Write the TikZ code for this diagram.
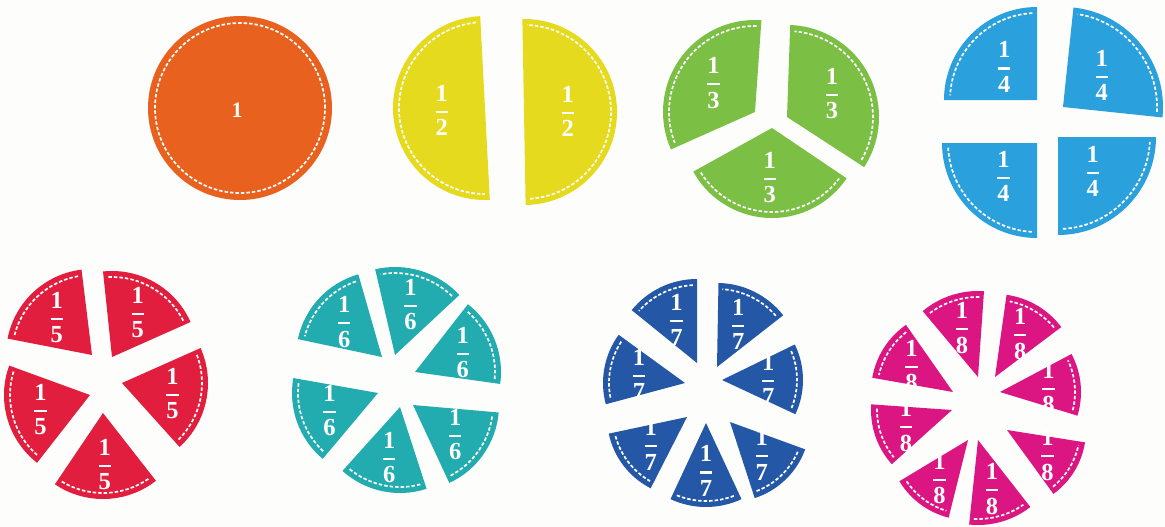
\documentclass[tikz,border=0pt]{standalone}
\usepackage{amsmath}
\usepackage{fontspec}
\setmainfont{Liberation Serif}
\usetikzlibrary{calc}
\definecolor{bg}{HTML}{FDFDFB}
\definecolor{corange}{HTML}{E8611E}
\definecolor{cyel}{HTML}{E5DA1E}
\definecolor{cgreen}{HTML}{7BBF45}
\definecolor{cblue}{HTML}{2AA0DC}
\definecolor{cred}{HTML}{E11E3D}
\definecolor{cteal}{HTML}{22ACB0}
\definecolor{cnavy}{HTML}{2457A6}
\definecolor{cmag}{HTML}{DB1683}
\tikzset{
  stitch/.style={white, line width=1.7pt, dash pattern=on 3.5pt off 2pt},
  frac/.style={text=white, inner sep=0pt, font=\bfseries\fontsize{24.5}{28}\selectfont},
}
\newcommand\fr[1]{$\genfrac{}{}{2.2pt}{0}{\text{1}}{\text{#1}}$}
\def\ld{0.6}
% #1 x, #2 y (pixels, down), #3 radius, #4 start, #5 end, #6 colour, #7 denominator, #8 name
\newcommand\slice[8]{%
  \fill[#6] (#1,-#2) -- ++(#4:#3) arc[start angle=#4,end angle=#5,radius=#3] -- cycle;
  \draw[stitch] ($(#1,-#2)+({#4+3}:{#3-6})$) arc[start angle={#4+3},end angle={#5-3},radius={#3-6}];
  \node[frac] (#8) at ($(#1,-#2)+({(#4+#5)/2}:{\ld*#3})$) {\fr{#7}};
}
\begin{document}
\begin{tikzpicture}[x=1pt,y=1pt]
\fill[bg] (0,0) rectangle (1165,-527);
\useasboundingbox (0,0) rectangle (1165,-527);
\clip (0,0) rectangle (1165,-527);
% whole
\fill[corange] (240,-108) circle[radius=92];
\draw[stitch] (240,-108) circle[radius=85];
\node[frac, font=\bfseries\fontsize{22}{26}\selectfont] (one) at (237,-110) {1};
% halves
\def\ld{0.47}
\slice{485}{108}{92}{93}{273}{cyel}{2}{h1}
\slice{524}{112}{93}{-89}{91}{cyel}{2}{h2}
% thirds
\def\ld{0.55}
\slice{755}{112}{92}{86}{204}{cgreen}{3}{t1}
\slice{787}{117}{92}{-33}{88}{cgreen}{3}{t2}
\slice{772}{128}{90}{209}{326}{cgreen}{3}{t3}
% quarters
\def\ld{0.5}
\slice{1037}{100}{93}{90}{180}{cblue}{4}{q1}
\slice{1063}{107}{100}{-6}{84}{cblue}{4}{q2}
\slice{1037}{143}{95}{180}{270}{cblue}{4}{q3}
\slice{1058}{137}{98}{270}{360}{cblue}{4}{q4}
% fifths
\def\ld{0.6}
\slice{92}{355}{86}{97}{169}{cred}{5}{f1}
\slice{112}{357}{86}{24}{96}{cred}{5}{f2}
\slice{122}{383}{86}{-48}{24}{cred}{5}{f3}
\slice{103}{413}{86}{236}{308}{cred}{5}{f4}
\slice{90}{395}{86}{160}{232}{cred}{5}{f5}
% sixths
\slice{382}{357}{86}{106}{168}{cteal}{6}{s1}
\slice{395}{355}{88}{43}{103}{cteal}{6}{s2}
\slice{415}{372}{86}{-8}{52}{cteal}{6}{s3}
\slice{413}{405}{86}{-65}{-5}{cteal}{6}{s4}
\slice{400}{407}{86}{228}{288}{cteal}{6}{s5}
\slice{378}{393}{86}{170}{230}{cteal}{6}{s6}
% sevenths
\def\ld{0.57}
\slice{697}{363}{84}{90}{141}{cnavy}{7}{v1}
\slice{717}{367}{84}{38}{89}{cnavy}{7}{v2}
\slice{722}{380}{81}{-25}{26}{cnavy}{7}{v3}
\slice{730}{422}{80}{-72}{-20}{cnavy}{7}{v4}
\slice{706}{423}{84}{245}{295}{cnavy}{7}{v5}
\slice{687}{417}{80}{192}{243}{cnavy}{7}{v6}
\slice{685}{383}{82}{144}{195}{cnavy}{7}{v7}
% eighths
\def\ld{0.6}
\slice{978}{377}{86}{86}{130}{cmag}{8}{e1}
\slice{995}{377}{83}{37}{82}{cmag}{8}{e2}
\slice{1000}{392}{81}{-17}{28}{cmag}{8}{e3}
\slice{1007}{430}{79}{-54}{-9}{cmag}{8}{e4}
\slice{978}{440}{85}{264}{308}{cmag}{8}{e5}
\slice{968}{440}{80}{211}{256}{cmag}{8}{e6}
\slice{952}{410}{81}{176}{222}{cmag}{8}{e7}
\slice{953}{392}{82}{125}{170}{cmag}{8}{e8}
\end{tikzpicture}
\end{document}
